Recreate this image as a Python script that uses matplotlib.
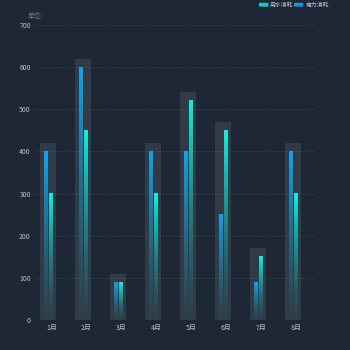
import numpy as np
import matplotlib
matplotlib.use("Agg")
import matplotlib.pyplot as plt
from matplotlib.colors import to_rgb
from matplotlib.patches import FancyBboxPatch

plt.rcParams['font.family'] = ['Noto Sans CJK SC', 'DejaVu Sans']

months = ['1月', '2月', '3月', '4月', '5月', '6月', '7月', '8月']
power = [400, 600, 90, 400, 400, 250, 90, 400]      # 电力消耗 (blue, left)
water = [300, 450, 90, 300, 520, 450, 150, 300]     # 用水消耗 (cyan, right)
backdrop = [420, 620, 110, 420, 540, 470, 170, 420]
yticks = [0, 100, 200, 300, 400, 500, 600, 700]

BG = '#1d2735'
BLUE = '#10a6f0'
CYAN = '#12f2dc'

fig = plt.figure(figsize=(3.5, 3.5), dpi=100, facecolor=BG)
ax = fig.add_axes([0.1, 0.0857, 0.797, 0.843])
ax.set_facecolor(BG)

x = np.arange(len(months))

# backdrop bars
ax.bar(x, backdrop, width=0.46, color=(1, 1, 1, 0.09), zorder=1)


def grad_bar(xc, h, w, color, bottom_color):
    c1 = np.array(to_rgb(color))
    c0 = np.array(to_rgb(bottom_color))
    n = 256
    t = np.linspace(0, 1, n)[:, None]  # 0 bottom -> 1 top
    rgb = c0 + (c1 - c0) * t
    alpha = np.clip(0.05 + 0.95 * t ** 0.9, 0, 1)
    img = np.concatenate([rgb, alpha], axis=1)[:, None, :]
    img = np.repeat(img, 2, axis=1)
    ax.imshow(img, extent=[xc - w / 2, xc + w / 2, 0, h], origin='lower',
              aspect='auto', zorder=3, interpolation='bilinear')


bw = 0.114
for i in range(len(months)):
    grad_bar(x[i] - 0.057, power[i], bw, BLUE, '#1a7f8c')
    grad_bar(x[i] + 0.086, water[i], bw, CYAN, '#1a7f8c')

ax.set_xlim(-0.371, 7.6)
ax.set_ylim(0, 700)

# grid
ax.set_yticks(yticks)
for y in yticks[1:]:
    ax.axhline(y, color='#323d4b', lw=0.8, ls=(0, (1.5, 1.5)), zorder=0.5)
ax.axhline(0, color='#5a6573', lw=0.8, ls=(0, (1.5, 1.5)), zorder=4)

ax.set_xticks(x + 0.1)
ax.set_xticklabels(months)
ax.tick_params(axis='both', length=0, labelsize=5, colors='#b5bcc6', pad=3)
for s in ax.spines.values():
    s.set_visible(False)

fig.text(0.08, 0.955, '单位:', fontsize=4.8, color='#6f7885', ha='left', va='center')

# legend
def legend_item(xf, label, color):
    p = FancyBboxPatch((xf, 0.981), 0.027, 0.011,
                       boxstyle='round,pad=0,rounding_size=0.003',
                       transform=fig.transFigure, facecolor=color,
                       edgecolor='none')
    fig.patches.append(p)
    fig.text(xf + 0.032, 0.986, label, fontsize=4.2, color='#c3c9d1',
             ha='left', va='center')

legend_item(0.740, '用水消耗', '#11c9c9')
legend_item(0.840, '电力消耗', '#0f96d8')

fig.savefig('out.png', dpi=100, facecolor=BG)
